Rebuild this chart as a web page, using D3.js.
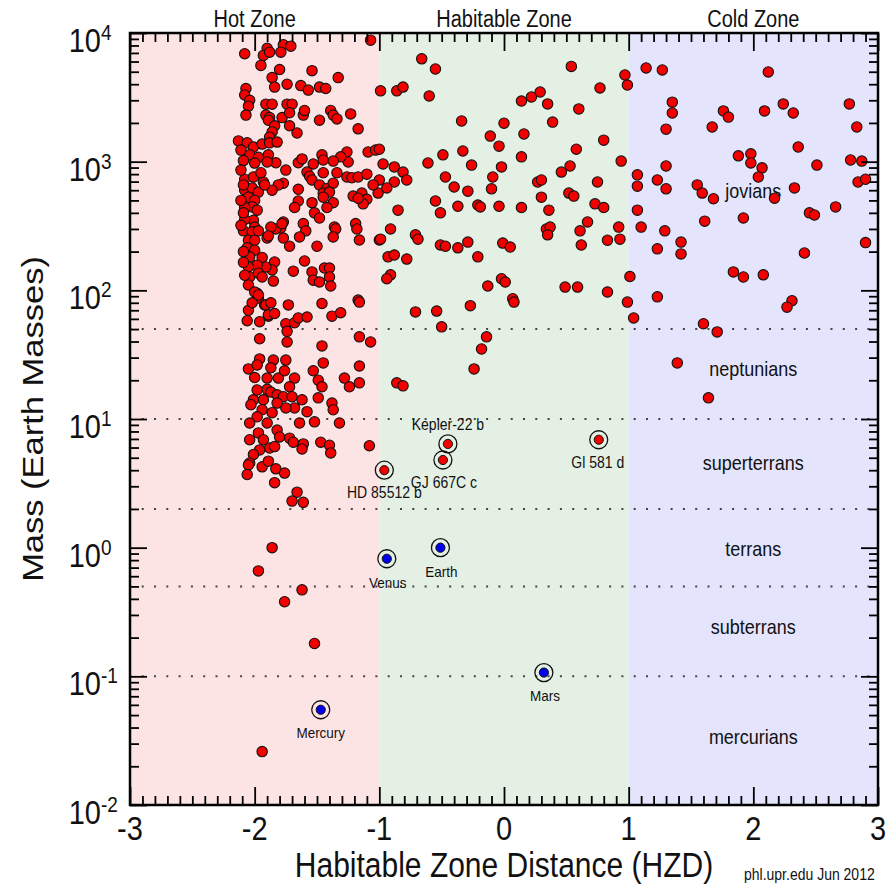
<!DOCTYPE html>
<html>
<head>
<meta charset="utf-8">
<script src="https://cdn.jsdelivr.net/npm/d3@7"></script>
<style>
  body { margin: 0; background: #fff; }
  text { font-family: "Liberation Sans", Arial, Helvetica, sans-serif; fill: #111; }
</style>
</head>
<body>
<script>
// зоны обитаемости (по оси HZD)
const zoneNames = ["Hot Zone", "Habitable Zone", "Cold Zone"];
const zoneFrom = [-3, -1, 1];
const zoneTo = [-1, 1, 3];

// классы масс и их границы
const massClasses = ["jovians", "neptunians", "superterrans", "terrans", "subterrans", "mercurians"];
const massClassCenter = [580, 24, 4.4, 0.95, 0.236, 0.033];
const massBoundaries = [50, 10, 2, 0.5, 0.1];

// тики
const xTickValues = [-3, -2, -1, 0, 1, 2, 3];
const yExponents = [-2, -1, 0, 1, 2, 3, 4];

// экзопланеты: [HZD, масса в массах Земли]
const hotZonePlanets = [
  [-2.08,6900],[-1.90,7600],[-1.93,6700],[-1.88,7100],[-1.77,8100],[-1.71,7900],[-1.79,7100],[-1.07,8800],
  [-1.95,5600],[-1.80,5200],[-1.54,5100],[-1.33,4500],[-1.86,4500],[-1.84,3800],[-1.74,4000],[-1.63,3900],
  [-1.57,3600],[-1.48,3800],[-1.43,3700],[-2.07,3700],[-2.08,3300],[-2.04,3000],[-2.05,2700],[-2.07,2300],
  [-1.91,2800],[-1.86,2800],[-1.74,2800],[-1.70,2800],[-1.91,2300],[-1.88,2200],[-1.89,2100],[-1.78,2200],
  [-1.72,2400],[-1.61,2300],[-1.60,2500],[-1.48,2100],[-1.39,2500],[-1.37,2300],[-1.34,2150],[-1.23,2350],
  [-1.17,1800],[-1.72,1900],[-1.84,1900],[-1.86,1700],[-1.88,1550],[-1.66,1670],
  [-2.13,1450],[-2.06,1400],[-2.01,1300],[-1.94,1370],[-1.88,1400],[-1.82,1420],
  [-1.09,1190],[-1.03,1230],[-1.00,1250],[-1.26,1190],[-1.25,995],[-1.46,1130],[-1.45,1030],[-1.31,1090],
  [-1.37,1010],[-1.65,980],[-1.62,1050],[-1.53,960],[-1.75,860],[-1.58,830],[-1.56,770],[-1.54,720],
  [-1.45,820],[-1.34,820],[-1.26,760],[-1.22,750],[-1.17,760],[-1.10,800],[-1.00,720],[-1.01,570],
  [-1.05,660],[-1.48,660],[-1.42,620],[-1.37,680],[-1.77,680],[-1.81,660],[-1.86,600],[-1.65,610],
  [-1.45,570],[-1.40,580],[-1.21,540],[-1.14,570],[-1.10,510],[-1.13,470],[-1.17,520],[-1.65,495],
  [-1.68,440],[-1.54,480],[-1.52,400],[-1.48,365],[-1.45,530],[-1.37,480],[-1.42,440],[-1.61,330],
  [-1.59,290],[-1.64,260],[-1.36,310],[-1.35,300],[-1.37,260],[-1.19,330],[-1.18,300],[-1.16,246],
  [-1.77,340],[-1.79,305],[-1.83,300],[-1.87,310],[-1.90,255],[-1.72,220],[-1.77,255],[-1.50,220],
  [-1.00,246],[-1.60,169],[-1.69,141],[-1.44,149],[-1.40,149],[-1.40,127],[-1.39,108],[-1.54,139],
  [-1.53,120],[-1.48,116],[-1.17,84],[-1.84,166],[-1.86,144],[-1.85,118],[-1.98,95],
  // плотная колонка около HZD = -2
  [-2.04,1130],[-1.97,1080],[-1.89,1130],[-1.83,980],[-1.90,995],[-2.00,975],[-2.08,730],[-2.01,760],
  [-1.93,695],[-1.95,820],[-2.08,600],[-2.02,625],[-1.97,580],[-2.05,530],[-2.00,500],[-2.02,445],
  [-2.08,440],[-1.98,420],[-2.01,350],[-2.08,355],[-2.00,310],[-2.09,290],[-2.02,285],[-1.97,290],
  [-2.05,245],[-2.00,245],[-2.06,214],[-2.00,205],[-2.04,182],[-1.94,180],[-1.91,152],[-1.98,157],
  [-2.05,152],[-2.04,127],[-1.97,136],[-1.94,127],[-2.05,110],[-2.00,97],[-1.97,87],[-1.92,77],
  [-1.89,63],[-1.78,330],[-1.89,265],[-1.92,660],
  [-2.11,1230],[-2.09,1020],[-2.11,860],[-2.09,660],[-2.11,500],[-2.09,400],[-2.11,320],[-2.09,200],
  [-2.09,165],[-2.08,131],[-2.05,70],[-1.96,57],[-2.06,58],
  // нептуны и суперземли
  [-2.02,80],[-1.97,92],[-1.91,77],[-1.87,80],[-1.89,64.5],[-1.84,66],[-1.73,77],[-1.75,55],
  [-1.68,56],[-1.65,61],[-1.58,62],[-1.74,48],[-1.46,79],[-1.38,63],[-1.31,67],[-1.16,81],
  [-1.96,42],[-1.74,39.7],[-1.46,37],[-1.16,43.5],[-1.07,39.7],
  [-2.05,24.5],[-1.96,29.3],[-1.85,28.7],[-1.75,28.7],[-1.98,26.3],[-2.00,21],[-1.90,20.8],[-1.81,20.8],
  [-1.76,23.7],[-1.68,20.8],[-1.53,23.7],[-1.45,27.3],[-1.49,20],[-1.46,17.8],[-1.28,20.8],[-1.24,17.8],
  [-1.16,25.8],[-1.16,19.1],[-1.72,17.8],[-1.87,25],
  [-1.98,16.8],[-1.90,17.0],[-1.87,16.2],[-1.82,15.4],[-1.77,14.9],[-1.70,14.9],[-1.62,14.1],[-1.49,14.6],
  [-1.38,13.3],[-1.37,11.8],[-1.32,9.3],[-1.52,9.5],[-1.58,11.4],[-1.64,9.3],[-1.68,12.2],[-1.75,12.2],
  [-1.82,13.3],[-1.93,14.1],[-2.01,14.1],[-2.03,12.9],[-1.94,11.8],[-1.86,11.2],[-1.98,10.4],[-2.04,9.3],
  [-1.90,9.3],[-1.82,8.2],[-1.80,7.25],[-1.72,7.1],[-1.69,6.6],[-1.61,6.4],[-1.62,5.85],[-1.47,6.6],
  [-1.40,6.25],[-1.39,5.45],[-2.04,6.9],[-1.97,7.8],[-1.93,6.9],[-1.88,5.95],[-1.84,6.1],[-1.96,5.75],
  [-2.01,5.3],[-2.04,4.55],[-2.05,4.4],[-1.94,4.25],[-1.89,4.7],[-1.83,4.1],[-1.76,3.8],[-1.84,3.2],
  [-2.06,3.7],[-1.66,2.7],[-1.70,2.3],[-1.61,2.25],[-1.08,6.2],
  [-1.86,1.0],[-1.97,0.66],[-1.62,0.47],[-1.76,0.38],[-1.52,0.18],[-1.94,0.026]
];

const habitableZonePlanets = [
  [-0.99,3550],[-0.86,3550],[-0.81,3800],[-0.66,6300],[-0.55,5250],[-0.60,3240],[-0.97,960],[-0.88,910],
  [-0.81,830],[-0.78,720],[-0.88,695],[-0.94,625],[-0.85,420],[-0.61,977],[-0.49,1130],[-0.47,760],
  [-0.55,495],[-0.51,400],[-0.91,300],[-0.99,250],[-0.71,270],[-0.69,250],[-0.51,225],[-0.93,182],
  [-0.88,188],[-0.78,175],[-0.91,132],[-0.94,123],
  [0.54,5500],[0.77,3740],[0.97,4720],[0.99,3940],[0.14,2960],[0.22,3180],[0.29,3480],[0.35,2810],
  [0.60,2570],[-0.34,2070],[0.00,1990],[0.39,2030],[-0.11,1580],[-0.04,1320],[0.16,1640],[0.80,1470],
  [0.58,1250],[-0.33,1210],[-0.26,940],[-0.02,910],[0.14,1090],[0.94,1010],[0.53,925],[0.46,830],
  [-0.40,635],[-0.29,590],[-0.09,760],[-0.10,615],[0.27,695],[0.30,720],[0.75,695],[0.30,530],
  [0.36,420],[0.52,570],[0.56,540],[-0.37,450],[-0.21,460],[-0.19,445],[-0.04,450],[0.14,440],
  [0.73,470],[0.80,440],[0.67,340],[0.61,290],[0.62,225],[0.92,310],[0.93,250],[0.83,245],
  [0.34,300],[0.37,310],[0.35,270],[-0.29,237],[-0.37,214],[-0.47,220],[-0.01,233],[0.05,217],
  [-0.21,182],[-0.13,108],[-0.02,123],[0.01,116],[0.49,106],[0.59,106],[0.83,97],[0.07,86],
  [-0.27,76],[0.08,81],[0.99,81],[-0.71,68],[-0.54,69],[-0.50,52],[-0.14,43.5],[-0.18,35],
  [-0.24,24.5],[-0.86,19.1],[-0.81,18.1]
];

const coldZonePlanets = [
  [1.01,128],[1.04,61],[1.23,89],[1.60,55],[1.71,47.5],[1.39,27.3],[2.31,83],[2.27,74],[1.64,14.6],
  [1.14,5350],[1.27,5160],[2.12,4980],[1.35,2900],[1.35,2390],[1.30,1790],[1.76,2480],[1.80,2220],
  [1.67,1860],[2.09,2480],[2.24,2810],[2.32,2390],[2.77,2810],[2.83,1860],[2.36,1300],[1.88,1110],
  [1.98,1150],[1.98,977],[2.07,895],[2.04,760],[1.30,925],[2.51,940],[2.78,1030],[2.87,1010],
  [2.84,695],[2.90,730],[1.07,790],[1.07,645],[1.23,720],[1.30,615],[1.55,660],[1.59,570],
  [1.68,515],[2.17,520],[2.33,625],[1.07,420],[2.45,400],[2.49,385],[2.66,445],[1.92,365],
  [1.61,345],[1.10,310],[1.29,290],[1.42,237],[1.42,192],[1.23,210],[2.41,195],[2.90,235],
  [1.84,139],[1.92,127],[2.08,132]
];

// отмеченные планеты
const markedNames = ["Kepler-22 b", "GJ 667C c", "HD 85512 b", "Gl 581 d"];
const markedHZD = [-0.45, -0.49, -0.96, 0.76];
const markedMass = [6.4, 4.8, 4.0, 6.9];

// планеты Солнечной системы
const solarNames = ["Mercury", "Venus", "Earth", "Mars"];
const solarHZD = [-1.47, -0.94, -0.51, 0.32];
const solarMass = [0.055, 0.82, 1.0, 0.107];

const width = 895, height = 884;
const margin = { top: 33, right: 17, bottom: 79, left: 130 };
const SY = 1.15; // текст в оригинале чуть вытянут по вертикали

const svg = d3.select("body").append("svg").attr("width", width).attr("height", height);

const x = d3.scaleLinear().domain([-3, 3]).range([margin.left, width - margin.right]);
const y = d3.scaleLog().domain([1e-2, 1e4]).range([height - margin.bottom, margin.top]);

function label(g, px, py, str, size, anchor) {
  return g.append("text")
    .attr("transform", `translate(${px},${py}) scale(1,${SY})`)
    .attr("font-size", size)
    .attr("text-anchor", anchor || "middle")
    .text(str);
}

// фоны зон
const zoneColors = ["#fde4e4", "#e4f0e4", "#e4e4fc"];
svg.selectAll(".zone")
  .data(zoneNames)
  .enter()
  .append("rect")
  .attr("class", "zone")
  .attr("x", (d, i) => x(zoneFrom[i]))
  .attr("width", (d, i) => x(zoneTo[i]) - x(zoneFrom[i]))
  .attr("y", y(1e4))
  .attr("height", y(1e-2) - y(1e4))
  .attr("fill", (d, i) => zoneColors[i]);

// пунктирные границы классов
svg.selectAll(".bound")
  .data(massBoundaries)
  .enter()
  .append("line")
  .attr("x1", x(-3)).attr("x2", x(3))
  .attr("y1", (d) => y(d)).attr("y2", (d) => y(d))
  .attr("stroke", "#444")
  .attr("stroke-width", 2)
  .attr("stroke-dasharray", "2,10.3")
  .attr("stroke-dashoffset", 0.6);

// подписи классов
const classG = svg.append("g");
massClasses.forEach((c, i) => label(classG, x(2), y(massClassCenter[i]) + 5.5, c, 18));

// точки экзопланет
const allPlanets = hotZonePlanets.concat(habitableZonePlanets, coldZonePlanets);
svg.append("g")
  .selectAll("circle")
  .data(allPlanets)
  .enter()
  .append("circle")
  .attr("cx", (d) => x(d[0]))
  .attr("cy", (d) => y(d[1]))
  .attr("r", 5.2)
  .attr("fill", "#f20000")
  .attr("stroke", "#111")
  .attr("stroke-width", 1.1);

// отмеченные планеты с кольцами
function ringed(names, hzd, mass, color, offsets, size) {
  const g = svg.append("g");
  names.forEach((n, i) => {
    const cx = x(hzd[i]), cy = y(mass[i]);
    g.append("circle").attr("cx", cx).attr("cy", cy).attr("r", 9)
      .attr("fill", "none").attr("stroke", "#111").attr("stroke-width", 1.3);
    g.append("circle").attr("cx", cx).attr("cy", cy).attr("r", 4.6)
      .attr("fill", color).attr("stroke", "#111").attr("stroke-width", 1);
    label(g, cx + offsets[i][0], cy + offsets[i][1], n, size);
  });
}
ringed(markedNames, markedHZD, markedMass, "#f20000", [[0, -14], [1, 28], [0, 28], [-1, 28]], 14);
ringed(solarNames, solarHZD, solarMass, "#0000ee", [[0, 28], [1, 29], [1, 29], [1, 28]], 13.5);

// оси: деления внутрь
const xMinor = d3.range(-30, 31).filter((k) => k % 10 !== 0).map((k) => k / 10);
const yMajor = yExponents.map((e) => Math.pow(10, e));
const yMinor = [];
yExponents.slice(0, -1).forEach((e) => {
  for (let k = 2; k <= 9; k++) yMinor.push(k * Math.pow(10, e));
});

function ticks(axis, tx, ty) {
  svg.append("g")
    .attr("transform", `translate(${tx},${ty})`)
    .call(axis.tickFormat("").tickSizeOuter(0))
    .call((g) => g.select(".domain").remove())
    .selectAll("line")
    .attr("stroke", "#000")
    .attr("stroke-width", 1.8);
}
const bottomY = y(1e-2), topY = y(1e4), leftX = x(-3), rightX = x(3);
ticks(d3.axisBottom(x).tickValues(xMinor).tickSize(-9), 0, bottomY);
ticks(d3.axisBottom(x).tickValues(xTickValues).tickSize(-18), 0, bottomY);
ticks(d3.axisTop(x).tickValues(xMinor).tickSize(-9), 0, topY);
ticks(d3.axisTop(x).tickValues(xTickValues).tickSize(-18), 0, topY);
ticks(d3.axisLeft(y).tickValues(yMinor).tickSize(-9), leftX, 0);
ticks(d3.axisLeft(y).tickValues(yMajor).tickSize(-17), leftX, 0);
ticks(d3.axisRight(y).tickValues(yMinor).tickSize(-9), rightX, 0);
ticks(d3.axisRight(y).tickValues(yMajor).tickSize(-17), rightX, 0);

// рамка
svg.append("rect")
  .attr("x", leftX).attr("y", topY)
  .attr("width", rightX - leftX).attr("height", bottomY - topY)
  .attr("fill", "none").attr("stroke", "#000").attr("stroke-width", 2.5);

// подписи делений
const tickG = svg.append("g");
xTickValues.forEach((v) => label(tickG, x(v), 840, String(v), 29));
yExponents.forEach((e) => {
  const ty = y(Math.pow(10, e));
  label(tickG, 101, ty + 19, "10", 29, "end");
  label(tickG, 101, ty + 7, String(e), 19, "start");
});

// названия зон
const zoneG = svg.append("g");
zoneNames.forEach((z, i) => label(zoneG, x((zoneFrom[i] + zoneTo[i]) / 2), 27, z, 20));

// названия осей
label(svg, (leftX + rightX) / 2, 877, "Habitable Zone Distance (HZD)", 30);
svg.append("text")
  .attr("transform", `translate(43,${(topY + bottomY) / 2}) scale(1,${SY}) rotate(-90)`)
  .attr("font-size", 30)
  .attr("text-anchor", "middle")
  .text("Mass (Earth Masses)");

// подпись источника
label(svg, 744, 880, "phl.upr.edu  Jun 2012", 14, "start");
</script>
</body>
</html>
